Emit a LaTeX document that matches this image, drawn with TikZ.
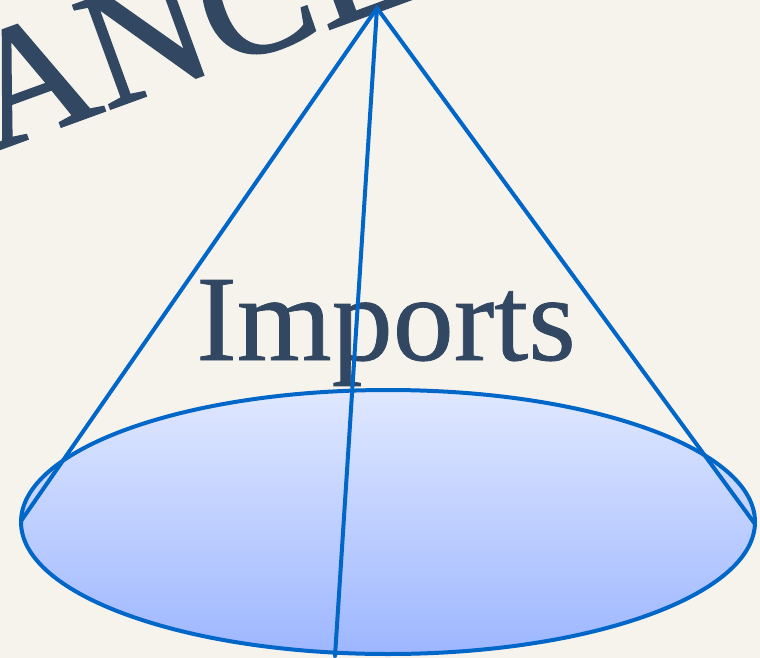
\documentclass[tikz,border=0pt]{standalone}
\usepackage{fontspec}
\setmainfont{Liberation Serif}
\newfontfamily\anceface[FakeBold=1.2]{Liberation Serif}
\newfontfamily\impface[FakeBold=0.6]{Liberation Serif}
\definecolor{bgc}{RGB}{246,243,237}
\definecolor{txtc}{RGB}{50,71,98}
\definecolor{conec}{RGB}{0,102,200}
\definecolor{topc}{RGB}{224,232,255}
\definecolor{botc}{RGB}{157,182,255}
\tikzset{
  conel/.style={draw=conec, line width=4pt, line cap=round},
  bigtxt/.style={text=txtc, inner sep=0pt, font=\impface\fontsize{122}{126}\selectfont},
}
\begin{document}
\begin{tikzpicture}[x=1pt,y=-1pt]
\useasboundingbox (0,0) rectangle (760,658);
\fill[bgc] (0,0) rectangle (760,658);
\clip (0,0) rectangle (760,658);
\node[text=txtc, inner sep=0pt, anchor=base west, rotate=20,
  font=\anceface\fontsize{168}{170}\selectfont] (ance) at (-8,152) {ANCE};
\coordinate (apex) at (377,8);
\coordinate (L) at (21,521);
\coordinate (R) at (755,524);
\coordinate (B) at (335,656);
\coordinate (ctr) at (388,522);
\shade[top color=topc, bottom color=botc] (ctr) ellipse [x radius=367, y radius=132];
\draw[conec, line width=4pt] (ctr) ellipse [x radius=367, y radius=132];
\node[bigtxt, anchor=base] (imports) at (386,360) {Imports};
\draw[conel] (L) -- (apex) -- (R);
\draw[conel] (apex) -- (B);
\end{tikzpicture}
\end{document}
